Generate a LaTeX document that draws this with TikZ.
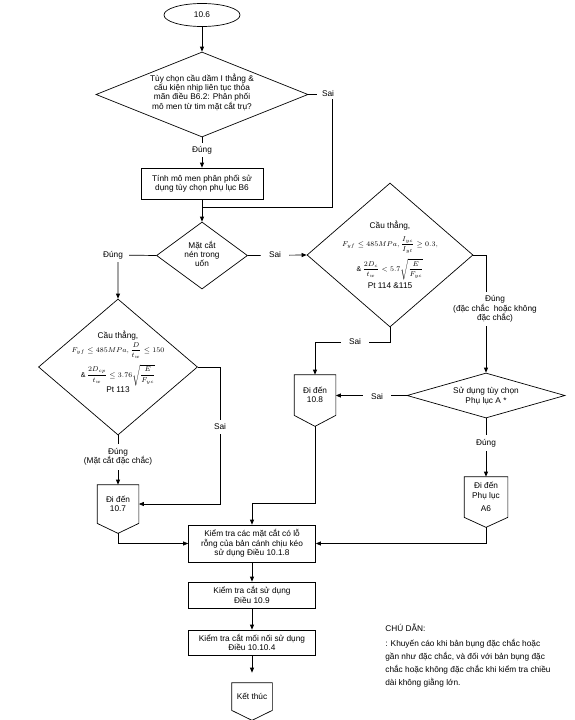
\documentclass[tikz,border=0pt]{standalone}
\usepackage{amsmath}
\usepackage{fontspec}
\setmainfont{Liberation Sans}
\usetikzlibrary{shapes.geometric,arrows.meta,calc}
\begin{document}
\begin{tikzpicture}[x=1pt,y=-1pt, line width=0.7pt,
  every node/.style={font=\fontsize{8.3}{9.3}\selectfont},
  arr/.style={-{Triangle[length=5pt,width=4pt]}},
  box/.style={draw, rectangle, align=center, inner sep=1pt},
  dia/.style={draw, diamond, inner sep=0pt},
  gopage/.style={rectangle, align=center, inner sep=0pt},
  lbl/.style={fill=white, align=center, inner sep=1.5pt},
  txt/.style={align=center, inner sep=0pt}]
\useasboundingbox (0,0) rectangle (575,720);

% ---- shapes ----
\node[draw, ellipse, minimum width=76pt, minimum height=23pt, inner sep=0pt] (n106) at (202,15) {10.6};

\node[dia, minimum width=212pt, minimum height=85pt] (d1) at (202,94.5) {};
\node[txt] (d1t) at (202,92) {Tùy chọn cầu dầm I thẳng \&\\cấu kiện nhịp liên tục thỏa\\mãn điều B6.2: Phân phối\\mô men từ tim mặt cắt trụ?};

\node[box, minimum width=122pt, minimum height=31pt] (r1) at (202,183.5) {Tính mô men phân phối sử\\dụng tùy chọn phụ lục B6};

\node[dia, minimum width=91pt, minimum height=67pt] (d2) at (202,255.5) {};
\node[txt] (d2t) at (202,254) {Mặt cắt\\nén trong\\uốn};

\node[dia, minimum width=166pt, minimum height=144pt] (d4) at (390,255) {};
\node[txt] (d4t) at (390,255) {Cầu thẳng,\\[5pt]
  {\fontsize{7}{8}\selectfont $F_{yf}\le 485MPa,\dfrac{I_{yc}}{I_{yt}}\ge 0.3,$}\\[4pt]
  {\fontsize{7}{8}\selectfont $\&\,\dfrac{2D_c}{t_w}<5.7\sqrt{\dfrac{E}{F_{yc}}}$}\\[2pt]
  Pt 114 \&115};

\node[dia, minimum width=159pt, minimum height=136pt] (d3) at (118,367) {};
\node[txt] (d3t) at (118,362) {Cầu thẳng,\\[1pt]
  {\fontsize{7}{8}\selectfont $F_{yf}\le 485MPa,\dfrac{D}{t_w}\le 150$}\\[5pt]
  {\fontsize{7}{8}\selectfont $\&\,\dfrac{2D_{cp}}{t_w}\le 3.76\sqrt{\dfrac{E}{F_{yc}}}$}\\
  Pt 113};

\node[dia, minimum width=158pt, minimum height=45pt] (d5) at (486,395.5) {};
\node[txt] (d5t) at (486,396) {Sử dụng tùy chọn\\Phụ lục A *};

% off-page connectors
\node[gopage, minimum width=41pt, minimum height=38pt] (g107) at (118,504) {Đi đến\\10.7};
\coordinate (g107p) at ($(g107.south)+(0,10)$);
\draw (g107.north west) -- (g107.north east) -- (g107.south east) -- (g107p) -- (g107.south west) -- cycle;

\node[gopage, minimum width=41pt, minimum height=40pt] (g108) at (315,395) {Đi đến\\10.8};
\coordinate (g108p) at ($(g108.south)+(0,11)$);
\draw (g108.north west) -- (g108.north east) -- (g108.south east) -- (g108p) -- (g108.south west) -- cycle;

\node[gopage, minimum width=43pt, minimum height=40pt] (gA6) at (486,497) {Đi đến\\Phụ lục\\[4pt]A6};
\coordinate (gA6p) at ($(gA6.south)+(0,10)$);
\draw (gA6.north west) -- (gA6.north east) -- (gA6.south east) -- (gA6p) -- (gA6.south west) -- cycle;

\node[box, minimum width=127pt, minimum height=37pt] (b1) at (252,543.5) {Kiểm tra các mặt cắt có lỗ\\rỗng của bản cánh chịu kéo\\sử dụng Điều 10.1.8};
\node[box, minimum width=127pt, minimum height=26pt] (b2) at (252,595) {Kiểm tra cắt sử dụng\\Điều 10.9};
\node[box, minimum width=127pt, minimum height=25pt] (b3) at (252,642.5) {Kiểm tra cắt mối nối sử dụng\\Điều 10.10.4};

\node[gopage, minimum width=40pt, minimum height=27pt] (endn) at (252,696.5) {Kết thúc};
\coordinate (endp) at ($(endn.south)+(0,10)$);
\draw (endn.north west) -- (endn.north east) -- (endn.south east) -- (endp) -- (endn.south west) -- cycle;

% ---- connectors ----
\coordinate (c1) at (332,207);
\coordinate (c5) at (118,255);
\coordinate (c8) at (390,342);
\coordinate (c11) at (220,367);
\coordinate (c14) at (252,503);

\draw[arr] (n106.south) -- (n106.south |- d1.north);
\draw[arr] (d1.south) -- (d1.south |- r1.north);
\draw (d1.east) -| (c1) -- (r1.south |- c1);
\draw[arr] (r1.south) -- (r1.south |- d2.north);
\draw[arr] (d2.west) -- (c5) -- (c5 |- d3.north);
\draw[arr] (d2.east) -- (d4.west);
\draw[arr] (d4.east) -| (d5.north);
\draw[arr] (d4.south) -- (c8) -| (g108.north);
\draw[arr] (d5.west) -- (d5.west -| g108.east);
\draw[arr] (d5.south) -- (gA6.north);
\draw[arr] (d3.east) -- (c11) |- (g107.east);
\draw[arr] (d3.south) -- (g107.north);
\draw[arr] (g107p) |- (b1.west);
\draw[arr] (g108p) |- (c14) -- (c14 |- b1.north);
\draw[arr] (gA6p) |- (b1.east);
\draw[arr] (b1.south) -- (b2.north);
\draw[arr] (b2.south) -- (b3.north);
\draw[arr, shorten >=10pt] (b3.south) -- (endn.north);

% ---- labels ----
\node[lbl, inner xsep=5pt] (sai1) at (328,94) {Sai};
\node[lbl, inner ysep=3pt] (dung1) at (202,150) {Đúng};
\node[lbl, inner xsep=6pt, inner ysep=3pt] (dung2) at (113,255) {Đúng};
\node[lbl, inner xsep=8pt] (sai2) at (275,255) {Sai};
\node[lbl, inner ysep=4pt] (dung3) at (495,309) {Đúng\\(đặc chắc\ \ hoặc không\\đặc chắc)};
\node[lbl, inner xsep=8pt] (sai3) at (355,342) {Sai};
\node[lbl, inner xsep=8pt] (sai4) at (377,397) {Sai};
\node[lbl, inner ysep=4pt] (dung5) at (486,443) {Đúng};
\node[lbl, inner ysep=4pt] (sai5) at (220,427) {Sai};
\node[lbl, inner ysep=4pt] (dung4) at (118,457) {Đúng\\(Mặt cắt đặc chắc)};

\node[anchor=north west, align=left, inner sep=0pt, font=\fontsize{8.3}{13}\selectfont] (note) at (385,624) {CHÚ DẪN:\\[2pt]: Khuyến cáo khi bản bụng đặc chắc hoặc\\gần như đặc chắc, và đối với bản bụng đặc\\chắc hoặc không đặc chắc khi kiểm tra chiều\\dài không giằng lớn.};
\end{tikzpicture}
\end{document}
